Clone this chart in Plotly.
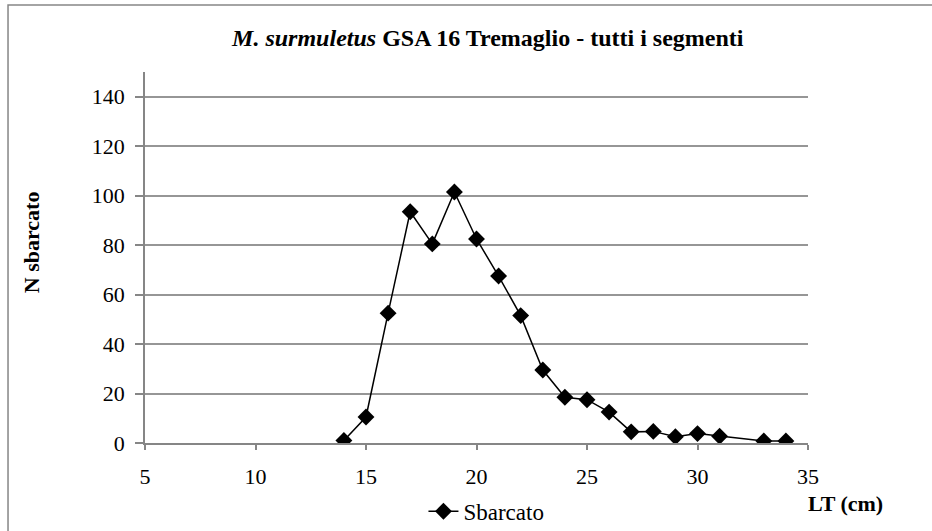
import plotly.graph_objs as go

# length classes (cm) and landed numbers
lt_cm = [14, 15, 16, 17, 18, 19, 20, 21, 22, 23, 24, 25, 26, 27, 28, 29, 30, 31, 33, 34]
n_sbarcato = [1, 10.5, 52.5, 93.5, 80.5, 101.5, 82.5, 67.5, 51.5, 29.5, 18.5, 17.5, 12.5, 4.5, 4.7, 2.5, 3.8, 2.7, 0.8, 0.8]

x_ticks = [5, 10, 15, 20, 25, 30, 35]
y_ticks = [0, 20, 40, 60, 80, 100, 120, 140]

serif = 'Liberation Serif'

trace = go.Scatter(
    x=lt_cm,
    y=n_sbarcato,
    mode='lines+markers',
    name='Sbarcato',
    line=dict(color='black', width=1.5),
    marker=dict(symbol='diamond', size=13, color='black')
)

layout = go.Layout(
    width=932, height=531,
    margin=dict(l=145, r=124, t=72, b=88, autoexpand=False),
    paper_bgcolor='white',
    plot_bgcolor='white',
    font=dict(family=serif, size=22, color='black'),
    title=dict(
        text='<b><i>M. surmuletus</i> GSA 16 Tremaglio - tutti i segmenti</b>',
        x=0.517, xref='paper', xanchor='center',
        y=0.93, yref='container', yanchor='middle',
        font=dict(family=serif, size=24, color='black')
    ),
    xaxis=dict(
        range=[5, 35], tickvals=x_ticks, showgrid=False, zeroline=False,
        showline=True, linecolor='#868686', linewidth=1.5,
        ticks='outside', ticklen=5, tickcolor='#868686', tickwidth=1.5,
        ticklabelstandoff=8,
        tickfont=dict(family=serif, size=22, color='black')
    ),
    yaxis=dict(
        range=[0, 150], tickvals=y_ticks, showgrid=True,
        gridcolor='#969696', gridwidth=1.5, zeroline=False,
        showline=True, linecolor='#868686', linewidth=1.5,
        ticks='outside', ticklen=8, tickcolor='#868686', tickwidth=1.5,
        ticklabelstandoff=6,
        tickfont=dict(family=serif, size=22, color='black')
    ),
    showlegend=True,
    legend=dict(
        orientation='h', x=0.42, xanchor='left', y=-0.184, yanchor='middle',
        font=dict(family=serif, size=23, color='black')
    ),
    annotations=[
        dict(text='<b>LT (cm)</b>', xref='paper', yref='paper', x=1.057, y=-0.162,
             xanchor='center', yanchor='middle',
             showarrow=False, font=dict(family=serif, size=22, color='black')),
        dict(text='<b>N sbarcato</b>', xref='paper', yref='paper', x=-0.170, y=0.542,
             xanchor='center', yanchor='middle',
             textangle=-90, showarrow=False, font=dict(family=serif, size=22, color='black')),
    ],
    shapes=[
        dict(type='rect', xref='paper', yref='paper',
             x0=-0.2066, x1=1.199, y0=-0.2615, y1=1.1806,
             line=dict(color='#868686', width=1.5))
    ]
)

fig = go.Figure(data=[trace], layout=layout)
# page body has an 8px default margin, drop it so the chart sits at 0,0
fig.write_html("out.html", config={'displayModeBar': False},
               post_script="document.body.style.margin='0';")
